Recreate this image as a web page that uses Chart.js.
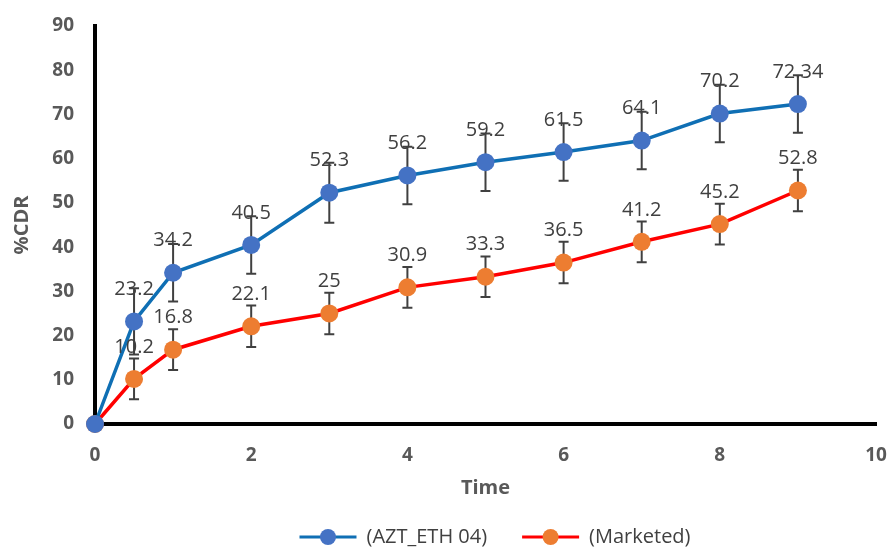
<!DOCTYPE html>
<html>
<head>
<meta charset="utf-8">
<script src="https://cdn.jsdelivr.net/npm/chart.js@4"></script>
<style>
  html, body { margin: 0; padding: 0; background: #fff; }
  #wrap { width: 893px; height: 550px; }
</style>
</head>
<body>
<div id="wrap"><canvas id="cdrChart" width="893" height="550"></canvas></div>
<script>
// ====================
// data
// ====================
const timePoints = [0, 0.5, 1, 2, 3, 4, 5, 6, 7, 8, 9];
const aztValues = [0, 23.2, 34.2, 40.5, 52.3, 56.2, 59.2, 61.5, 64.1, 70.2, 72.34];
const aztErrors = [0, 7.5, 6.5, 6.5, 6.8, 6.5, 6.5, 6.5, 6.5, 6.5, 6.5];
const marketedValues = [0, 10.2, 16.8, 22.1, 25, 30.9, 33.3, 36.5, 41.2, 45.2, 52.8];
const marketedErrors = [0, 4.6, 4.6, 4.7, 4.7, 4.6, 4.6, 4.7, 4.6, 4.6, 4.7];
const seriesNames = ["(AZT_ETH 04)", "(Marketed)"];

const FONT = "'Open Sans', 'Liberation Sans', sans-serif";

function toXY(vals) {
    return timePoints.map((t, i) => ({ x: t, y: vals[i] }));
}

// ====================
// error bars (under the points)
// ====================
const errorBars = {
    id: "errorBars",
    beforeDatasetsDraw(chart) {
        const ctx = chart.ctx;
        const ys = chart.scales.y;
        chart.data.datasets.forEach((ds, di) => {
            const meta = chart.getDatasetMeta(di);
            ctx.save();
            ctx.strokeStyle = "#404040";
            ctx.lineWidth = 2;
            meta.data.forEach((pt, i) => {
                const err = ds.errors[i];
                if (!err) return;
                const v = ds.data[i].y;
                const top = ys.getPixelForValue(v + err);
                const bot = ys.getPixelForValue(v - err);
                ctx.beginPath();
                ctx.moveTo(pt.x, top); ctx.lineTo(pt.x, bot);
                ctx.moveTo(pt.x - 5, top); ctx.lineTo(pt.x + 5, top);
                ctx.moveTo(pt.x - 5, bot); ctx.lineTo(pt.x + 5, bot);
                ctx.stroke();
            });
            ctx.restore();
        });
    }
};

// ====================
// value labels above points
// ====================
const valueLabels = {
    id: "valueLabels",
    afterDatasetsDraw(chart) {
        const ctx = chart.ctx;
        ctx.save();
        ctx.font = "20px " + FONT;
        ctx.fillStyle = "#404040";
        ctx.textAlign = "center";
        ctx.textBaseline = "middle";
        chart.data.datasets.forEach((ds, di) => {
            const meta = chart.getDatasetMeta(di);
            meta.data.forEach((pt, i) => {
                if (timePoints[i] === 0) return;
                ctx.fillText(String(ds.data[i].y), pt.x, pt.y - 32);
            });
        });
        ctx.restore();
    }
};

// ====================
// legend (line + marker), centred under the plot
// ====================
const bottomLegend = {
    id: "bottomLegend",
    afterDraw(chart) {
        const ctx = chart.ctx;
        const y = 537;
        const items = chart.data.datasets;
        ctx.save();
        ctx.font = "20px " + FONT;
        ctx.textBaseline = "middle";
        const iconW = 57, gap = 10, between = 35;
        let total = 0;
        items.forEach((ds, i) => {
            total += iconW + gap + ctx.measureText(ds.label).width;
            if (i < items.length - 1) total += between;
        });
        let x = 495 - total / 2;
        items.forEach(ds => {
            ctx.strokeStyle = ds.borderColor;
            ctx.lineWidth = 3;
            ctx.beginPath();
            ctx.moveTo(x, y); ctx.lineTo(x + iconW, y);
            ctx.stroke();
            ctx.fillStyle = ds.pointBackgroundColor;
            ctx.beginPath();
            ctx.arc(x + iconW / 2, y, 8, 0, Math.PI * 2);
            ctx.fill();
            x += iconW + gap;
            ctx.fillStyle = "#404040";
            ctx.fillText(ds.label, x, y);
            x += ctx.measureText(ds.label).width + between;
        });
        ctx.restore();
    }
};

// ====================
// chart
// ====================
const ctx = document.getElementById("cdrChart").getContext("2d");
new Chart(ctx, {
    type: "line",
    data: {
        datasets: [
            {
                label: seriesNames[0],
                data: toXY(aztValues),
                errors: aztErrors,
                borderColor: "#0F6FB4",
                borderWidth: 3.5,
                pointBackgroundColor: "#4472C4",
                pointBorderWidth: 0,
                pointRadius: 9,
                clip: false
            },
            {
                label: seriesNames[1],
                data: toXY(marketedValues),
                errors: marketedErrors,
                borderColor: "#FF0000",
                borderWidth: 3.5,
                pointBackgroundColor: "#ED7D31",
                pointBorderWidth: 0,
                pointRadius: 9,
                clip: false
            }
        ]
    },
    options: {
        responsive: false,
        animation: false,
        layout: { padding: { left: 0, top: 26, right: 17, bottom: 46 } },
        plugins: {
            legend: { display: false },
            tooltip: { enabled: false }
        },
        scales: {
            x: {
                type: "linear",
                min: 0, max: 10,
                ticks: { stepSize: 2, color: "#595959", padding: 20, font: { family: FONT, size: 19, weight: "bold" } },
                grid: { display: false, drawTicks: false },
                border: { display: true, color: "#000", width: 4 },
                title: { display: true, text: "Time", color: "#595959", padding: { top: 2 }, font: { family: FONT, size: 20, weight: "bold" } },
                afterFit(scale) { scale.height = 80; scale.paddingLeft = 0; scale.paddingRight = 0; }
            },
            y: {
                min: 0, max: 90,
                ticks: { stepSize: 10, color: "#595959", padding: 21, font: { family: FONT, size: 19, weight: "bold" } },
                grid: { display: false, drawTicks: false },
                border: { display: true, color: "#000", width: 4 },
                title: { display: true, text: "%CDR", color: "#595959", padding: { top: 10, bottom: 4 }, font: { family: FONT, size: 20, weight: "bold" } },
                afterFit(scale) { scale.width = 95; scale.paddingTop = 0; scale.paddingBottom = 0; }
            }
        }
    },
    plugins: [errorBars, valueLabels, bottomLegend]
});
</script>
</body>
</html>
